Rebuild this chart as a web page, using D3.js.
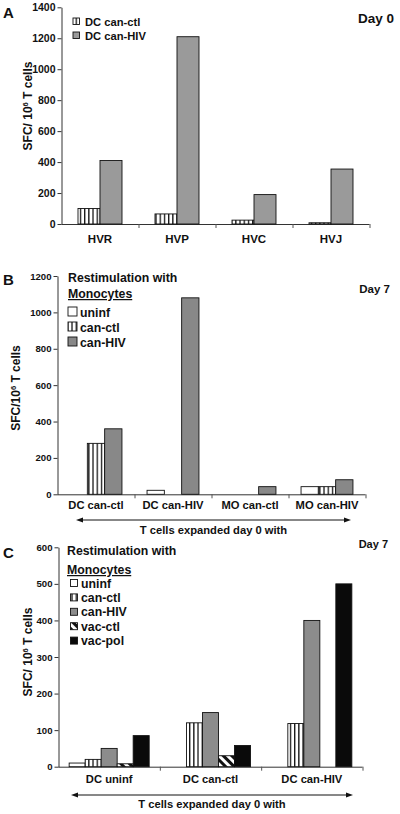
<!DOCTYPE html>
<html><head><meta charset="utf-8">
<script src="https://cdn.jsdelivr.net/npm/d3@7"></script>
<style>
html,body{margin:0;padding:0;background:#fff;}
svg{display:block;font-family:"Liberation Sans",Arial,sans-serif;font-weight:bold;}
</style></head>
<body>
<svg id="c" width="400" height="814"></svg>
<script>
// ---------- DATA ----------
const catsA = ["HVR", "HVP", "HVC", "HVJ"];
const seriesA = ["DC can-ctl", "DC can-HIV"];
const ctlA = [100, 65, 25, 8];
const hivA = [410, 1210, 190, 355];
const ticksA = [0, 200, 400, 600, 800, 1000, 1200, 1400];

const catsB = ["DC can-ctl", "DC can-HIV", "MO can-ctl", "MO can-HIV"];
const seriesB = ["uninf", "can-ctl", "can-HIV"];
const uninfB = [0, 22, 0, 42];
const ctlB = [280, 0, 0, 42];
const hivB = [360, 1080, 42, 80];
const ticksB = [0, 200, 400, 600, 800, 1000, 1200];

const catsC = ["DC uninf", "DC can-ctl", "DC can-HIV"];
const seriesC = ["uninf", "can-ctl", "can-HIV", "vac-ctl", "vac-pol"];
const uninfC = [10, 0, 0];
const ctlC = [20, 120, 118];
const hivC = [50, 148, 400];
const vacCtlC = [8, 30, 0];
const vacPolC = [85, 58, 500];
const ticksC = [0, 100, 200, 300, 400, 500, 600];

// ---------- DRAW ----------
const svg = d3.select("#c");
svg.append("rect").attr("width", 400).attr("height", 814).attr("fill", "#fff");
const defs = svg.append("defs");

// vertical stripes
const pv = defs.append("pattern").attr("id", "vstripe").attr("patternUnits", "userSpaceOnUse")
  .attr("width", 4.2).attr("height", 10);
pv.append("rect").attr("width", 4.2).attr("height", 10).attr("fill", "#fff");
pv.append("rect").attr("x", 0).attr("width", 1.3).attr("height", 10).attr("fill", "#111");
// diagonal stripes "\"
const pd = defs.append("pattern").attr("id", "dstripe").attr("patternUnits", "userSpaceOnUse")
  .attr("width", 6).attr("height", 6).attr("patternTransform", "rotate(-45)");
pd.append("rect").attr("width", 6).attr("height", 6).attr("fill", "#fff");
pd.append("rect").attr("width", 3).attr("height", 6).attr("fill", "#111");

function panel(cfg) {
  const g = svg.append("g");
  const y = d3.scaleLinear().domain([0, cfg.yMax]).range(cfg.yRange);
  const x0 = d3.scaleBand().domain(cfg.cats).range(cfg.xRange).padding(0);
  const x1 = d3.scaleBand().domain(cfg.series).range([0, x0.bandwidth()])
    .paddingInner(0).paddingOuter(cfg.po);

  // y axis
  const ya = g.append("g").attr("transform", `translate(${cfg.xRange[0]},0)`)
    .call(d3.axisLeft(y).tickValues(cfg.ticks).tickFormat(d3.format("d"))
      .tickSize(4).tickSizeOuter(0).tickPadding(2));
  ya.select(".domain").attr("stroke", "#333");
  ya.selectAll(".tick line").attr("stroke", "#333");
  ya.selectAll(".tick text").attr("font-family", "Liberation Sans, Arial, sans-serif")
    .attr("font-weight", "bold").attr("font-size", cfg.tickFont).attr("fill", "#111");

  // x axis line + boundary ticks
  const y0 = y(0);
  g.append("line").attr("x1", cfg.xRange[0]).attr("x2", cfg.xRange[1])
    .attr("y1", y0 + 0.5).attr("y2", y0 + 0.5).attr("stroke", "#333");
  g.selectAll(".xt").data(cfg.cats).enter().append("line")
    .attr("x1", d => x0(d) + x0.bandwidth() + 0.5).attr("x2", d => x0(d) + x0.bandwidth() + 0.5)
    .attr("y1", y0).attr("y2", y0 + 4).attr("stroke", "#555");
  g.selectAll(".xl").data(cfg.cats).enter().append("text")
    .attr("x", d => x0(d) + x0.bandwidth() / 2).attr("y", cfg.xLabelY)
    .attr("text-anchor", "middle").attr("font-size", cfg.xFont).attr("fill", "#111").text(d => d);

  // bars
  cfg.series.forEach((s, si) => {
    const vals = cfg.values[si];
    g.selectAll(null).data(cfg.cats.map((c, i) => ({ c, v: vals[i] })).filter(d => d.v > 0))
      .enter().append("rect")
      .attr("x", d => x0(d.c) + x1(s))
      .attr("y", d => y(d.v))
      .attr("width", x1.bandwidth())
      .attr("height", d => y0 - y(d.v))
      .attr("fill", cfg.fills[si]).attr("stroke", "#111").attr("stroke-width", 0.9);
  });

  // y label
  const yl = g.append("text").attr("transform", `translate(${cfg.yLabel[0]},${cfg.yLabel[1]}) rotate(-90)`)
    .attr("text-anchor", "middle").attr("font-size", 12).attr("fill", "#111");
  yl.append("tspan").text(cfg.yLabelText);
  yl.append("tspan").attr("font-size", 7.5).attr("dy", -4.5).text("6");
  yl.append("tspan").attr("dy", 4.5).text(" T cells");

  // panel letter and day
  g.append("text").attr("x", 3).attr("y", cfg.letterY).attr("font-size", 15).attr("fill", "#111").text(cfg.letter);
  g.append("text").attr("x", cfg.day[0]).attr("y", cfg.day[1]).attr("text-anchor", "end")
    .attr("font-size", cfg.dayFont).attr("fill", "#111").text(cfg.dayText);

  // legend
  if (cfg.legend.title) {
    g.append("text").attr("x", cfg.legend.tx).attr("y", cfg.legend.titleY[0]).attr("font-size", 12.3)
      .attr("fill", "#111").text("Restimulation with");
    g.append("text").attr("x", cfg.legend.tx).attr("y", cfg.legend.titleY[1]).attr("font-size", 12.3)
      .attr("fill", "#111").attr("text-decoration", "underline").text("Monocytes");
  }
  cfg.series.forEach((s, si) => {
    const yy = cfg.legend.y + si * cfg.legend.dy;
    g.append("rect").attr("x", cfg.legend.sx).attr("y", yy - cfg.legend.sq)
      .attr("width", cfg.legend.sq).attr("height", cfg.legend.sq)
      .attr("fill", cfg.fills[si]).attr("stroke", "#111").attr("stroke-width", 0.9);
    g.append("text").attr("x", cfg.legend.tx2).attr("y", yy + 1).attr("font-size", cfg.legend.font)
      .attr("fill", "#111").text(s);
  });

  // arrow
  if (cfg.arrow) {
    const a = cfg.arrow;
    g.append("line").attr("x1", a.x1 + 4).attr("x2", a.x2 - 4).attr("y1", a.y).attr("y2", a.y)
      .attr("stroke", "#111").attr("stroke-width", 1);
    g.append("path").attr("d", `M${a.x1},${a.y} L${a.x1 + 7},${a.y - 2.5} L${a.x1 + 7},${a.y + 2.5} Z`).attr("fill", "#111");
    g.append("path").attr("d", `M${a.x2},${a.y} L${a.x2 - 7},${a.y - 2.5} L${a.x2 - 7},${a.y + 2.5} Z`).attr("fill", "#111");
    g.append("text").attr("x", (a.x1 + a.x2) / 2).attr("y", a.ty).attr("text-anchor", "middle")
      .attr("font-size", 11.2).attr("fill", "#111").text("T cells expanded day 0 with");
  }
}

panel({
  cats: catsA, series: seriesA, values: [ctlA, hivA], fills: ["url(#vstripe)", "#9a9a9a"],
  yMax: 1400, ticks: ticksA, yRange: [224, 7.3], xRange: [61.5, 369.5], po: 0.75,
  tickFont: 10.5, xFont: 11.5, xLabelY: 243,
  yLabel: [32, 106], yLabelText: "SFC/ 10",
  letter: "A", letterY: 18, day: [394, 22.5], dayText: "Day 0", dayFont: 13.5,
  legend: { title: false, y: 24.5, dy: 14, sx: 73, sq: 6.5, tx2: 85, font: 11.2 }
});

panel({
  cats: catsB, series: seriesB, values: [uninfB, ctlB, hivB], fills: ["#fff", "url(#vstripe)", "#888"],
  yMax: 1200, ticks: ticksB, yRange: [494.3, 276], xRange: [57.5, 365.5], po: 0.725,
  tickFont: 9.6, xFont: 11.2, xLabelY: 509,
  yLabel: [20, 388], yLabelText: "SFC/10",
  letter: "B", letterY: 285, day: [390, 293], dayText: "Day 7", dayFont: 11.5,
  legend: { title: true, titleY: [282, 298], tx: 68, y: 316, dy: 15, sx: 68, sq: 9, tx2: 80, font: 12.3 },
  arrow: { x1: 76, x2: 351, y: 520, ty: 534 }
});

panel({
  cats: catsC, series: seriesC, values: [uninfC, ctlC, hivC, vacCtlC, vacPolC],
  fills: ["#fff", "url(#vstripe)", "#8c8c8c", "url(#dstripe)", "#0a0a0a"],
  yMax: 600, ticks: ticksC, yRange: [766.7, 547.3], xRange: [58.5, 362.5], po: 0.666,
  tickFont: 9.6, xFont: 11.2, xLabelY: 783,
  yLabel: [32, 652], yLabelText: "SFC/ 10",
  letter: "C", letterY: 558, day: [388, 548], dayText: "Day 7", dayFont: 11,
  legend: { title: true, titleY: [555, 574], tx: 67, y: 586.5, dy: 14.4, sx: 70.5, sq: 7, tx2: 81, font: 12.3 },
  arrow: { x1: 71, x2: 353, y: 795, ty: 808 }
});
</script>
</body></html>
